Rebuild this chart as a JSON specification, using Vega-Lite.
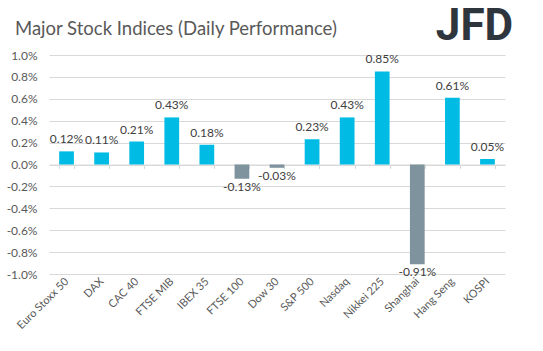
{
  "$schema": "https://vega.github.io/schema/vega-lite/v6.json",
  "autosize": {"type": "none"},
  "width": 456,
  "height": 219,
  "padding": {"left": 49, "top": 55, "right": 38, "bottom": 77},
  "background": "white",
  "title": {
    "text": "Major Stock Indices (Daily Performance)",
    "anchor": "start",
    "frame": "group",
    "orient": "top",
    "baseline": "alphabetic",
    "dx": -34,
    "dy": 49,
    "offset": 0,
    "font": "Lato",
    "fontSize": 18.5,
    "fontWeight": "normal",
    "color": "#595959"
  },
  "config": {
    "view": {"stroke": null},
    "locale": {"number": {"decimal": ".", "thousands": ",", "grouping": [3], "currency": ["", ""], "minus": "-"}},
    "axis": {"labelFont": "Lato", "labelFontSize": 12, "labelColor": "#595959"}
  },
  "data": {
    "values": [
      {"index": "Euro Stoxx 50", "change": 0.0012},
      {"index": "DAX", "change": 0.0011},
      {"index": "CAC 40", "change": 0.0021},
      {"index": "FTSE MIB", "change": 0.0043},
      {"index": "IBEX 35", "change": 0.0018},
      {"index": "FTSE 100", "change": -0.0013},
      {"index": "Dow 30", "change": -0.0003},
      {"index": "S&P 500", "change": 0.0023},
      {"index": "Nasdaq", "change": 0.0043},
      {"index": "Nikkei 225", "change": 0.0085},
      {"index": "Shanghai", "change": -0.0091},
      {"index": "Hang Seng", "change": 0.0061},
      {"index": "KOSPI", "change": 0.0005}
    ]
  },
  "encoding": {
    "x": {
      "field": "index",
      "type": "nominal",
      "sort": null,
      "scale": {"paddingInner": 0.58, "paddingOuter": 0.29},
      "axis": {
        "title": null,
        "offset": -109.5,
        "domainColor": "#d9d9d9",
        "tickColor": "#d9d9d9",
        "tickSize": 4,
        "tickBand": "extent",
        "labelAngle": -45,
        "labelAlign": "right",
        "labelBaseline": "middle",
        "labelPadding": 111,
        "labelFontSize": 11
      }
    },
    "y": {
      "field": "change",
      "type": "quantitative",
      "scale": {"domain": [-0.01, 0.01], "nice": false},
      "axis": {
        "title": null,
        "values": [-0.01, -0.008, -0.006, -0.004, -0.002, 0, 0.002, 0.004, 0.006, 0.008, 0.01],
        "format": ".1%",
        "domain": false,
        "ticks": false,
        "labelPadding": 12,
        "gridColor": "#d9d9d9",
        "gridWidth": 1
      }
    }
  },
  "layer": [
    {
      "mark": {"type": "bar"},
      "encoding": {
        "color": {
          "condition": {"test": "datum.change < 0", "value": "#7F939E"},
          "value": "#00BCE4"
        }
      }
    },
    {
      "transform": [{"filter": "datum.change >= 0"}],
      "mark": {"type": "text", "baseline": "bottom", "dy": -5, "font": "Lato", "fontSize": 12, "color": "#404040"},
      "encoding": {"text": {"field": "change", "type": "quantitative", "format": ".2%"}}
    },
    {
      "transform": [{"filter": "datum.change < 0"}],
      "mark": {"type": "text", "baseline": "top", "dy": 3, "font": "Lato", "fontSize": 12, "color": "#404040"},
      "encoding": {"text": {"field": "change", "type": "quantitative", "format": ".2%"}}
    },
    {
      "data": {"values": [{"logo": "JFD", "pos": "KOSPI", "lev": 0.0126}]},
      "mark": {"type": "text", "font": "Roboto", "fontWeight": "bold", "fontSize": 44, "color": "#2F353C", "baseline": "middle", "align": "center", "dx": -13},
      "encoding": {
        "x": {"field": "pos", "type": "nominal"},
        "y": {"field": "lev", "type": "quantitative"},
        "text": {"field": "logo"}
      }
    }
  ]
}
